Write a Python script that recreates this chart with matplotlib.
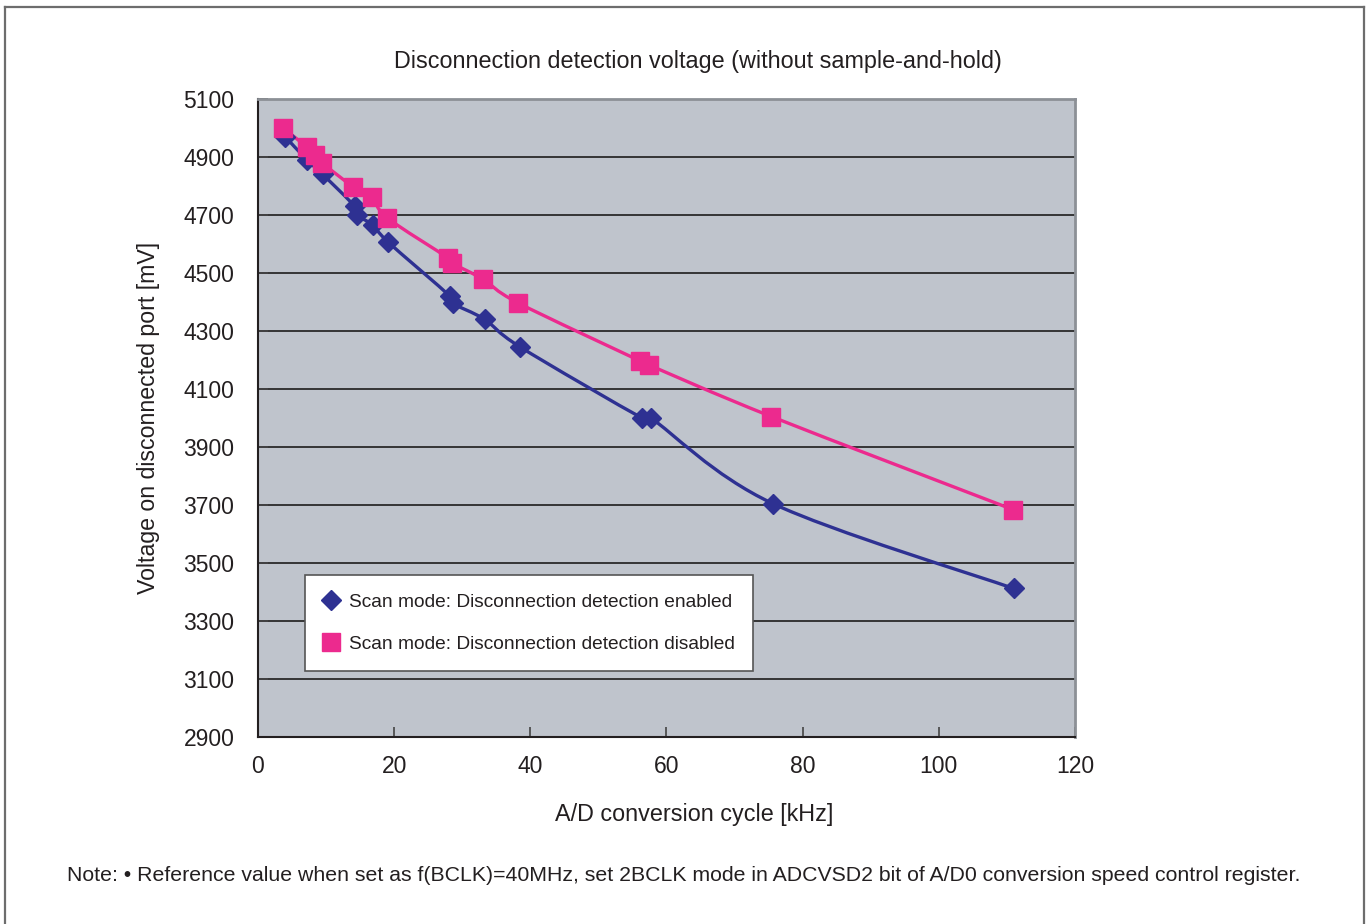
import numpy as np
import matplotlib.pyplot as plt
from matplotlib.path import Path
from matplotlib.patches import PathPatch
from matplotlib.lines import Line2D

plt.rcParams['font.family'] = ['Liberation Sans', 'DejaVu Sans']

# Data
freq_enabled = [4.0, 7.2, 9.5, 14.2, 14.5, 16.9, 19.1, 28.2, 28.6, 33.3, 38.5, 56.4, 57.7, 75.6, 111.0]
volt_enabled = [4970, 4890, 4840, 4730, 4700, 4665, 4607, 4420, 4395, 4340, 4245, 4000, 4000, 3705, 3412]

freq_disabled = [3.7, 7.2, 8.4, 9.4, 14.0, 16.7, 19.0, 27.9, 28.5, 33.1, 38.2, 56.1, 57.4, 75.4, 110.9]
volt_disabled = [5000, 4934, 4907, 4880, 4797, 4762, 4690, 4552, 4534, 4478, 4397, 4197, 4183, 4005, 3684]

labels = ["Scan mode: Disconnection detection enabled",
          "Scan mode: Disconnection detection disabled"]
yticks = list(range(2900, 5101, 200))
xticks = list(range(0, 121, 20))

blue = '#2E3192'
pink = '#EC2A8E'
ink = '#231F20'


def smooth_path(x, y):
    # Excel-style smoothed line: Catmull-Rom segments drawn as cubic Beziers
    p = np.column_stack([x, y]).astype(float)
    verts = [p[0]]
    codes = [Path.MOVETO]
    n = len(p)
    for i in range(n - 1):
        p0 = p[i - 1] if i > 0 else p[i]
        p3 = p[i + 2] if i + 2 < n else p[i + 1]
        c1 = p[i] + (p[i + 1] - p0) / 6.0
        c2 = p[i + 1] - (p3 - p[i]) / 6.0
        verts += [c1, c2, p[i + 1]]
        codes += [Path.CURVE4] * 3
    return Path(verts, codes)


fig = plt.figure(figsize=(13.72, 9.24), dpi=100)
ax = fig.add_axes([0.188, 0.2024, 0.5955, 0.6905])
ax.set_facecolor('#BFC4CC')

ax.add_patch(PathPatch(smooth_path(freq_enabled, volt_enabled), fill=False,
                       edgecolor=blue, lw=2.4, zorder=3))
ax.add_patch(PathPatch(smooth_path(freq_disabled, volt_disabled), fill=False,
                       edgecolor=pink, lw=2.4, zorder=3))
ax.plot(freq_enabled, volt_enabled, ls='none', marker='D', ms=10.5,
        color=blue, zorder=4, label=labels[0])
ax.plot(freq_disabled, volt_disabled, ls='none', marker='s', ms=12.5,
        color=pink, zorder=5, label=labels[1])

ax.set_xlim(0, 120)
ax.set_ylim(2900, 5100)
ax.set_xticks(xticks)
ax.set_yticks(yticks)
for yv in yticks[1:-1]:
    ax.axhline(yv, color='#2a2a2a', lw=1.3, zorder=1)

ax.tick_params(axis='both', direction='in', length=7, width=1.2,
               color='#444444', labelsize=16.5, labelcolor=ink)
ax.tick_params(axis='y', pad=17)
ax.tick_params(axis='x', pad=13)
for side in ['left', 'bottom']:
    ax.spines[side].set_color(ink)
    ax.spines[side].set_linewidth(1.5)
for side in ['top', 'right']:
    ax.spines[side].set_color('#8C9096')
    ax.spines[side].set_linewidth(2)

leg = ax.legend(loc='lower left', bbox_to_anchor=(0.0575, 0.103),
                fontsize=13.75, frameon=True, fancybox=False, framealpha=1,
                edgecolor='#555555', borderpad=0.95, labelspacing=1.3,
                handlelength=0.8, handletextpad=0.55, borderaxespad=0)
leg.get_frame().set_linewidth(1.2)
for t in leg.get_texts():
    t.set_color(ink)

fig.text(0.509, 0.933, "Disconnection detection voltage (without sample-and-hold)",
         ha='center', va='center', fontsize=16.8, color=ink)
fig.text(0.108, 0.548, "Voltage on disconnected port [mV]", rotation=90,
         ha='center', va='center', fontsize=16.7, color=ink)
fig.text(0.506, 0.118, "A/D conversion cycle [kHz]", ha='center', va='center',
         fontsize=16.8, color=ink)
fig.text(0.049, 0.053,
         "Note: \u2022 Reference value when set as f(BCLK)=40MHz, set 2BCLK mode in ADCVSD2 bit of A/D0 conversion speed control register.",
         ha='left', va='center', fontsize=15.3, color=ink)

# outer frame (open at the bottom)
for xs, ys in [([0.0036, 0.0036], [0.0, 0.9924]),
               ([0.0036, 0.9942], [0.9924, 0.9924]),
               ([0.9942, 0.9942], [0.0, 0.9924])]:
    fig.add_artist(Line2D(xs, ys, transform=fig.transFigure,
                          color='#6d6d6d', lw=1.6))

fig.savefig('out.png', dpi=100)
